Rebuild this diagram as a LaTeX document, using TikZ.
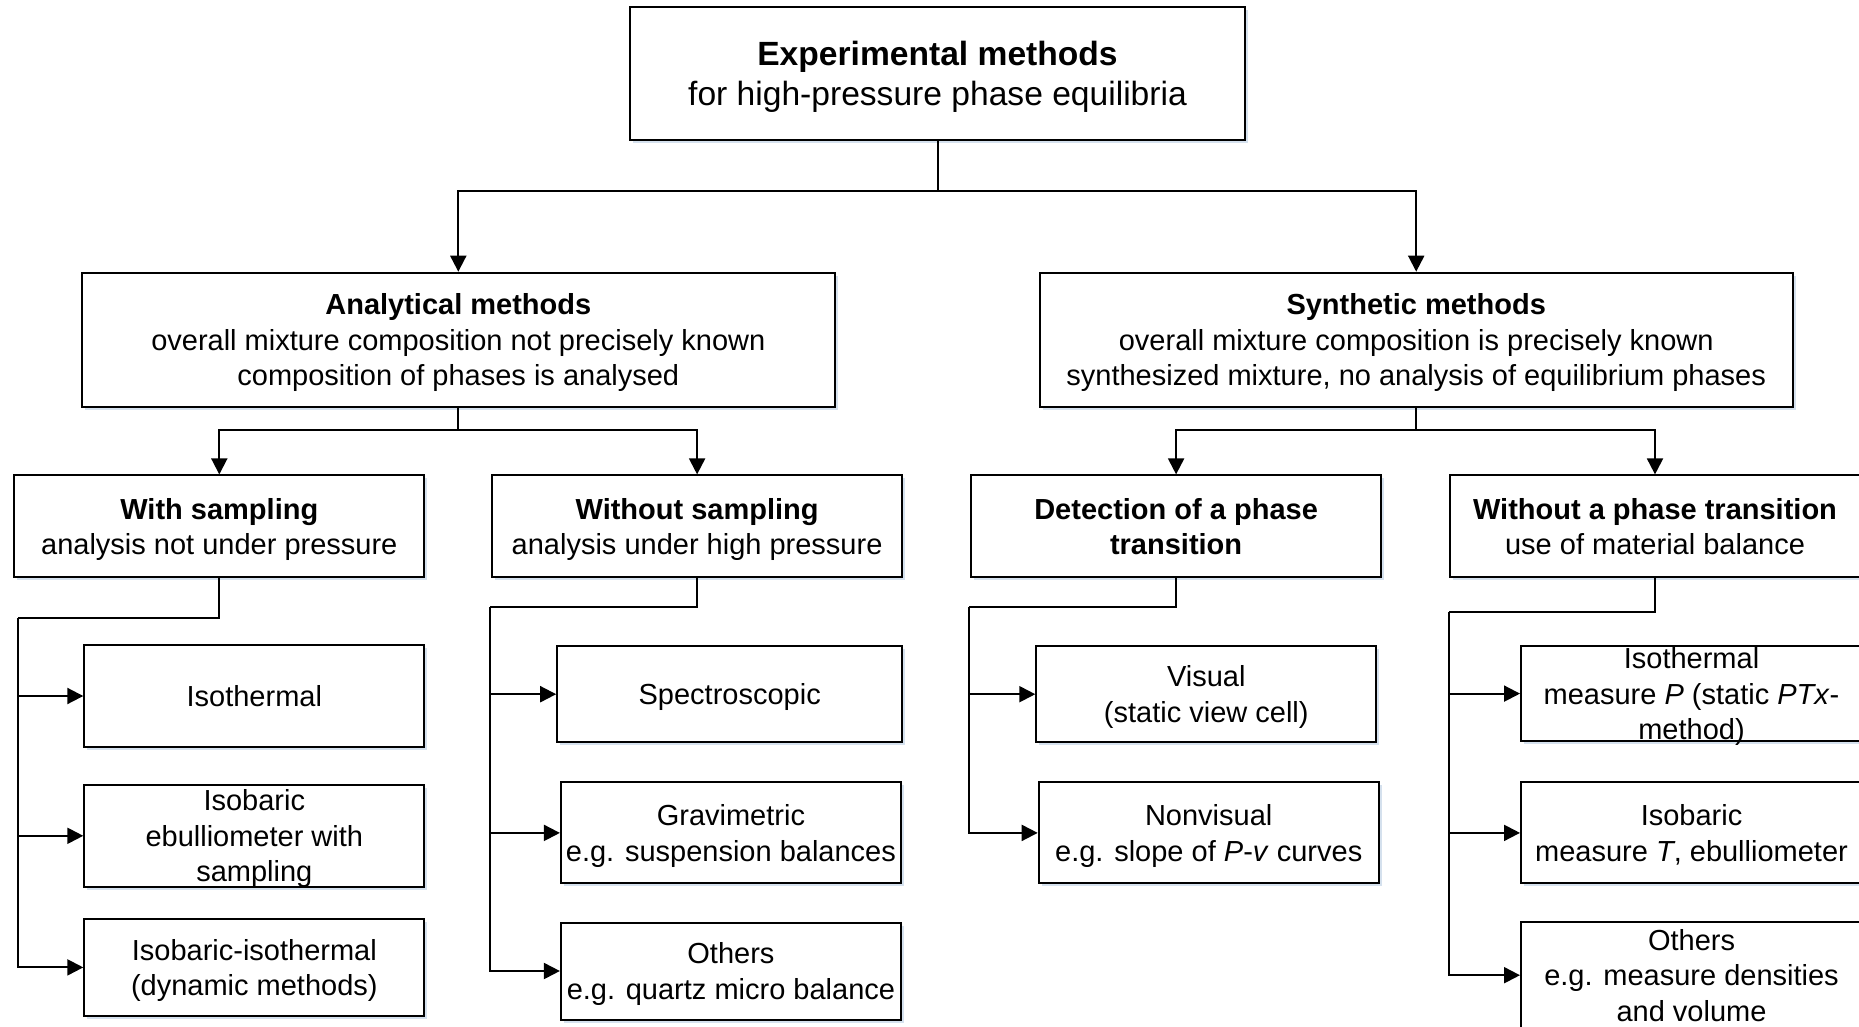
\documentclass[tikz,border=0pt]{standalone}
\usepackage{fontspec}
\setmainfont{Liberation Sans}
\usetikzlibrary{arrows.meta,shadows}
\definecolor{shadowcol}{HTML}{D5E1EE}
\newcommand{\sr}{\rule[-7.3pt]{0pt}{35.5pt}}
\newcommand{\srT}{\rule[-8.3pt]{0pt}{40.3pt}}
% three lines that overflow a fixed box
\newcommand{\ovl}[1]{\smash{\raisebox{25.05pt}{\vtop{\halign{\hfil##\hfil\cr#1\crcr}}}}}
\begin{document}
\begin{tikzpicture}[x=1pt,y=-1pt,
  box/.style={draw=black,line width=2pt,fill=white,rectangle,inner sep=0pt,align=center,
    font=\fontsize{29}{35.5}\selectfont,
    drop shadow={shadow xshift=3pt,shadow yshift=-3pt,fill=shadowcol,opacity=1}},
  titlebox/.style={box,font=\fontsize{33.6}{40.3}\selectfont},
  conn/.style={line width=2pt},
  arr/.style={conn,-{Triangle[length=16pt,width=16pt]}}]
\useasboundingbox (0,0) rectangle (1859,1027);
% level 1
\node[titlebox,minimum width=615pt,minimum height=133pt] (top) at (937.5,73.5)
  {\srT\textbf{Experimental methods}\\for high-pressure phase equilibria\srT};
% level 2
\node[box,minimum width=753pt,minimum height=134pt] (ana) at (458.3,339.7)
  {\sr\textbf{Analytical methods}\\overall mixture composition not precisely known\\composition of phases is analysed\sr};
\node[box,minimum width=753pt,minimum height=134pt] (syn) at (1416.2,339.7)
  {\sr\textbf{Synthetic methods}\\overall mixture composition is precisely known\\synthesized mixture, no analysis of equilibrium phases\sr};
% level 3
\node[box,minimum width=410pt,minimum height=102pt] (ws) at (219.3,526.4)
  {\sr\textbf{With sampling}\\analysis not under pressure\sr};
\node[box,minimum width=410pt,minimum height=102pt] (wos) at (697.1,526.4)
  {\sr\textbf{Without sampling}\\analysis under high pressure\sr};
\node[box,minimum width=410pt,minimum height=102pt] (det) at (1176.1,526.4)
  {\sr\textbf{Detection of a phase}\\\textbf{transition}\sr};
\node[box,minimum width=410pt,minimum height=102pt] (wpt) at (1655,526.4)
  {\sr\textbf{Without a phase transition}\\use of material balance\sr};
% level 4 left
\node[box,minimum width=340pt,minimum height=102pt] (l1) at (254.3,696) {\sr Isothermal\sr};
\node[box,minimum width=340pt,minimum height=102pt] (l2) at (254.3,835.8)
  {\ovl{Isobaric\cr ebulliometer with\cr sampling}};
\node[box,minimum width=340pt,minimum height=97pt] (l3) at (254.3,967.4) {\sr Isobaric-isothermal\\(dynamic methods)\sr};
% level 4 middle
\node[box,minimum width=345pt,minimum height=96pt] (m1) at (729.7,694.2) {\sr Spectroscopic\sr};
\node[box,minimum width=340pt,minimum height=101pt] (m2) at (730.9,832.9) {\sr Gravimetric\\e.g. suspension balances\sr};
\node[box,minimum width=340pt,minimum height=97pt] (m3) at (730.9,971) {\sr Others\\e.g. quartz micro balance\sr};
% level 4 detection
\node[box,minimum width=340pt,minimum height=96pt] (d1) at (1206.3,694.2) {\sr Visual\\(static view cell)\sr};
\node[box,minimum width=340pt,minimum height=101pt] (d2) at (1208.7,832.9) {\sr Nonvisual\\e.g. slope of \textit{P}-\textit{v} curves\sr};
% level 4 right
\node[box,minimum width=341pt,minimum height=95pt] (r1) at (1691.5,693.6)
  {\ovl{Isothermal\cr measure \textit{P} (static \textit{PTx}-\cr method)}};
\node[box,minimum width=341pt,minimum height=101pt] (r2) at (1691.5,832.9) {\sr Isobaric\\measure \textit{T}, ebulliometer\sr};
\node[box,minimum width=341pt,minimum height=106pt] (r3) at (1691.5,975.2)
  {\ovl{Others\cr e.g. measure densities\cr and volume}};
% bus coordinates
\coordinate (b0) at (0,191);
\coordinate (b1) at (0,430.4);
\coordinate (bL) at (17.8,617.7);
\coordinate (bM) at (489.6,607);
\coordinate (bD) at (968.6,607);
\coordinate (bR) at (1449,611.8);
% connectors level 1 -> 2
\draw[conn] (top.south) -- (top.south |- b0);
\draw[arr] (top.south |- b0) -| (ana.north);
\draw[arr] (top.south |- b0) -| (syn.north);
% level 2 -> 3
\draw[conn] (ana.south) -- (ana.south |- b1);
\draw[arr] (ana.south |- b1) -| (ws.north);
\draw[arr] (ana.south |- b1) -| (wos.north);
\draw[conn] (syn.south) -- (syn.south |- b1);
\draw[arr] (syn.south |- b1) -| (det.north);
\draw[arr] (syn.south |- b1) -| (wpt.north);
% level 3 -> 4
\draw[conn] (ws.south) |- (bL);
\draw[arr] (bL) |- (l1.west);
\draw[arr] (bL) |- (l2.west);
\draw[arr] (bL) |- (l3.west);
\draw[conn] (wos.south) |- (bM);
\draw[arr] (bM) |- (m1.west);
\draw[arr] (bM) |- (m2.west);
\draw[arr] (bM) |- (m3.west);
\draw[conn] (det.south) |- (bD);
\draw[arr] (bD) |- (d1.west);
\draw[arr] (bD) |- (d2.west);
\draw[conn] (wpt.south) |- (bR);
\draw[arr] (bR) |- (r1.west);
\draw[arr] (bR) |- (r2.west);
\draw[arr] (bR) |- (r3.west);
\end{tikzpicture}
\end{document}
